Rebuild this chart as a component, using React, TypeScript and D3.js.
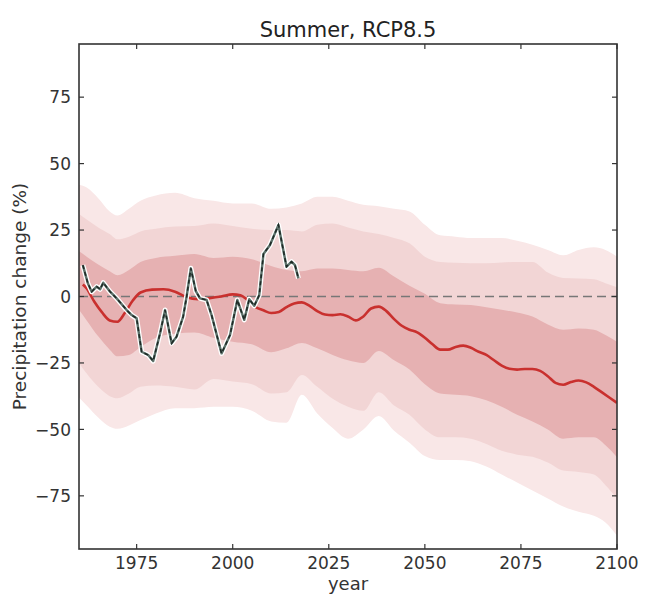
import React from "react";
import * as d3 from "d3";

const bandYears = [1960, 1962, 1965, 1968, 1970, 1973, 1976, 1980, 1985, 1990, 1995, 2000, 2005, 2010, 2014, 2018, 2022, 2026, 2030, 2034, 2038, 2042, 2046, 2050, 2054, 2058, 2062, 2066, 2070, 2074, 2078, 2082, 2086, 2090, 2094, 2097, 2100];
const outerHigh = [42, 41, 37, 32, 30.5, 33, 36, 38, 39, 37, 36, 35, 35, 33, 33.5, 35, 37.5, 37.5, 36, 34.5, 34, 33, 32, 27, 23, 22.5, 22, 22, 22, 21, 19.5, 17.5, 15.5, 17.5, 18.5, 17.5, 15];
const middleHigh = [31, 29, 26, 23.5, 21.5, 22.5, 24.5, 25.5, 26.3, 26.5, 27.5, 26.5, 25.5, 25, 25, 24.5, 27, 27.5, 26, 24.5, 23.5, 22, 20, 15, 13, 12.7, 12.5, 12.5, 12.8, 13, 13, 9, 7, 6.8, 6.5, 5, 3.5];
const innerHigh = [17, 15, 12, 9.5, 8, 10, 13, 14.5, 15.3, 16, 14.5, 15, 14, 11.5, 10, 9.5, 10.5, 10.5, 10, 9.5, 10.8, 7.5, 4, 1, -2.5, -3, -3.2, -4, -5, -6, -7.5, -10.5, -12.5, -12, -12.5, -14.5, -17];
const innerLow = [-5, -9, -15, -20, -22.5, -22, -19, -15.5, -14, -13.5, -15.5, -17, -18, -21, -19.5, -17.5, -19.5, -22, -24, -25, -20.5, -24, -27.5, -33, -36.5, -37, -37.5, -39, -41.5, -44.5, -47, -50, -53.5, -53, -53, -56, -60.5];
const middleLow = [-25, -29, -34, -37.5, -38.3, -36.5, -34, -33.5, -34, -35, -31, -32, -33, -36.5, -36, -29.5, -34, -38.5, -41.5, -43, -36, -41, -44.5, -50, -53, -53, -53.5, -55.5, -58, -59.5, -60.3, -62.5, -65.5, -66, -67, -71, -76];
const outerLow = [-38, -41, -45.5, -49, -49.8, -48.5, -46.5, -44, -42, -42, -41.5, -41.5, -43, -47, -47.5, -37, -44, -49.5, -53.5, -50, -45, -50.5, -55, -60, -61.5, -61.5, -62, -64, -67, -70, -73, -76, -79, -81, -82.5, -85, -90];

const medianYears = [1961, 1962, 1964, 1966, 1968, 1970, 1972, 1974, 1976, 1979, 1982, 1985, 1988, 1991, 1994, 1997, 2000, 2002, 2004, 2006, 2008, 2010, 2012, 2014, 2016, 2018, 2020, 2022, 2024, 2026, 2028, 2030, 2032, 2034, 2036, 2038, 2040, 2042, 2044, 2046, 2048, 2050, 2052, 2054, 2056, 2058, 2060, 2062, 2064, 2066, 2068, 2070, 2072, 2074, 2076, 2078, 2080, 2082, 2084, 2086, 2088, 2090, 2092, 2094, 2096, 2098, 2100];
const medianValues = [4.5, 3, -2, -6, -9, -9.5, -6, -1.5, 1.5, 2.6, 2.7, 1.8, -0.3, -1, -0.6, 0, 0.8, 0.5, -1.5, -4, -5.2, -6.2, -5.8, -4, -2.6, -2.2, -3.5, -5.5, -6.8, -7, -6.7, -7.5, -9, -7.5, -4.5, -3.8, -5.5, -8.5, -11, -12.5, -13.5, -15.5, -18, -20, -20, -19, -18.5, -19.3, -20.8, -22, -24, -26, -27.2, -27.5, -27.3, -27.3, -28, -30, -32.5, -33.2, -32.2, -31.6, -32.3, -34, -36, -38, -40];

const obsYears = [1961, 1962.3, 1963.3, 1964.6, 1965.5, 1966.3, 1968.1, 1969.8, 1972.4, 1973.7, 1975, 1976.3, 1978, 1979.3, 1981.1, 1982.4, 1984.1, 1985.4, 1987.1, 1988, 1989.1, 1990.4, 1991.5, 1993.2, 1994.5, 1997.1, 1999.3, 2001.2, 2003, 2004.3, 2005.6, 2006.9, 2008, 2009.7, 2011.9, 2014, 2015.3, 2016.2, 2017.1];
const obsValues = [11.8, 5, 1.8, 3.7, 2.7, 5.2, 1.8, -0.7, -5.1, -7, -8.2, -20.8, -22, -24.3, -13.8, -5.1, -17.6, -15.1, -7.6, -0.1, 10.6, 2, -0.7, -1.3, -7, -21.4, -14.5, -1.3, -8.8, -1, -3.5, 0.5, 16, 19.4, 26.9, 11.2, 13.1, 11.8, 6.8];

const xTicks = [1975, 2000, 2025, 2050, 2075, 2100];
const yTicks = [-75, -50, -25, 0, 25, 50, 75];

const W = 646;
const H = 596;
const M = { left: 79, right: 617, top: 44, bottom: 549 };
const FONT = "'DejaVu Sans', sans-serif";

export default function App() {
  const x = d3.scaleLinear().domain([1960, 2100]).range([M.left, M.right]);
  const y = d3.scaleLinear().domain([-95, 95]).range([M.bottom, M.top]);

  const band = (lo: number[], hi: number[]) =>
    d3
      .area<number>()
      .x((_, i) => x(bandYears[i]))
      .y0((_, i) => y(lo[i]))
      .y1((_, i) => y(hi[i]))
      .curve(d3.curveMonotoneX)(bandYears) || "";

  const medianPath =
    d3
      .line<number>()
      .x((_, i) => x(medianYears[i]))
      .y((d) => y(d))
      .curve(d3.curveMonotoneX)(medianValues) || "";

  const obsPath =
    d3
      .line<number>()
      .x((_, i) => x(obsYears[i]))
      .y((d) => y(d))(obsValues) || "";

  const fmt = (v: number) => (v < 0 ? "\u2212" + Math.abs(v) : String(v));
  const tickLen = 5;
  const axisColor = "#333";

  return (
    <svg
      width={W}
      height={H}
      style={{ position: "absolute", left: 0, top: 0, background: "#fff" }}
      fontFamily={FONT}
    >
      <defs>
        <clipPath id="plotClip">
          <rect x={M.left} y={M.top} width={M.right - M.left} height={M.bottom - M.top} />
        </clipPath>
      </defs>
      <g clipPath="url(#plotClip)">
        <path d={band(outerLow, outerHigh)} fill="#f9e7e7" />
        <path d={band(middleLow, middleHigh)} fill="#f2d5d5" />
        <path d={band(innerLow, innerHigh)} fill="#e6b1b2" />
        <line
          x1={M.left}
          x2={M.right}
          y1={y(0)}
          y2={y(0)}
          stroke="#777"
          strokeWidth={1.5}
          strokeDasharray="9,5"
        />
        <path d={medianPath} fill="none" stroke="#c9302e" strokeWidth={2.6} />
        <path d={obsPath} fill="none" stroke="#ffffff" strokeWidth={5} strokeLinejoin="round" />
        <path d={obsPath} fill="none" stroke="#5d726b" strokeWidth={2.4} strokeLinejoin="round" />
        <path d={obsPath} fill="none" stroke="#1e2a26" strokeWidth={1.6} strokeDasharray="4,3" />
      </g>
      <rect
        x={M.left}
        y={M.top}
        width={M.right - M.left}
        height={M.bottom - M.top}
        fill="none"
        stroke={axisColor}
        strokeWidth={1.6}
      />
      {xTicks.map((t) => (
        <g key={"x" + t}>
          <line x1={x(t)} x2={x(t)} y1={M.bottom} y2={M.bottom - tickLen} stroke={axisColor} strokeWidth={1.2} />
          <line x1={x(t)} x2={x(t)} y1={M.top} y2={M.top + tickLen} stroke={axisColor} strokeWidth={1.2} />
          <text x={x(t)} y={M.bottom + 20} textAnchor="middle" fontSize={17} fill="#333">
            {t}
          </text>
        </g>
      ))}
      {yTicks.map((t) => (
        <g key={"y" + t}>
          <line x1={M.left} x2={M.left + tickLen} y1={y(t)} y2={y(t)} stroke={axisColor} strokeWidth={1.2} />
          <line x1={M.right} x2={M.right - tickLen} y1={y(t)} y2={y(t)} stroke={axisColor} strokeWidth={1.2} />
          <text x={M.left - 8} y={y(t)} dy="0.36em" textAnchor="end" fontSize={17} fill="#333">
            {fmt(t)}
          </text>
        </g>
      ))}
      <text x={(M.left + M.right) / 2} y={37} textAnchor="middle" fontSize={21} fill="#222">
        Summer, RCP8.5
      </text>
      <text x={(M.left + M.right) / 2} y={590} textAnchor="middle" fontSize={18} fill="#333">
        year
      </text>
      <text
        transform={`translate(26, ${(M.top + M.bottom) / 2}) rotate(-90)`}
        textAnchor="middle"
        fontSize={18.5}
        fill="#333"
      >
        Precipitation change (%)
      </text>
    </svg>
  );
}
